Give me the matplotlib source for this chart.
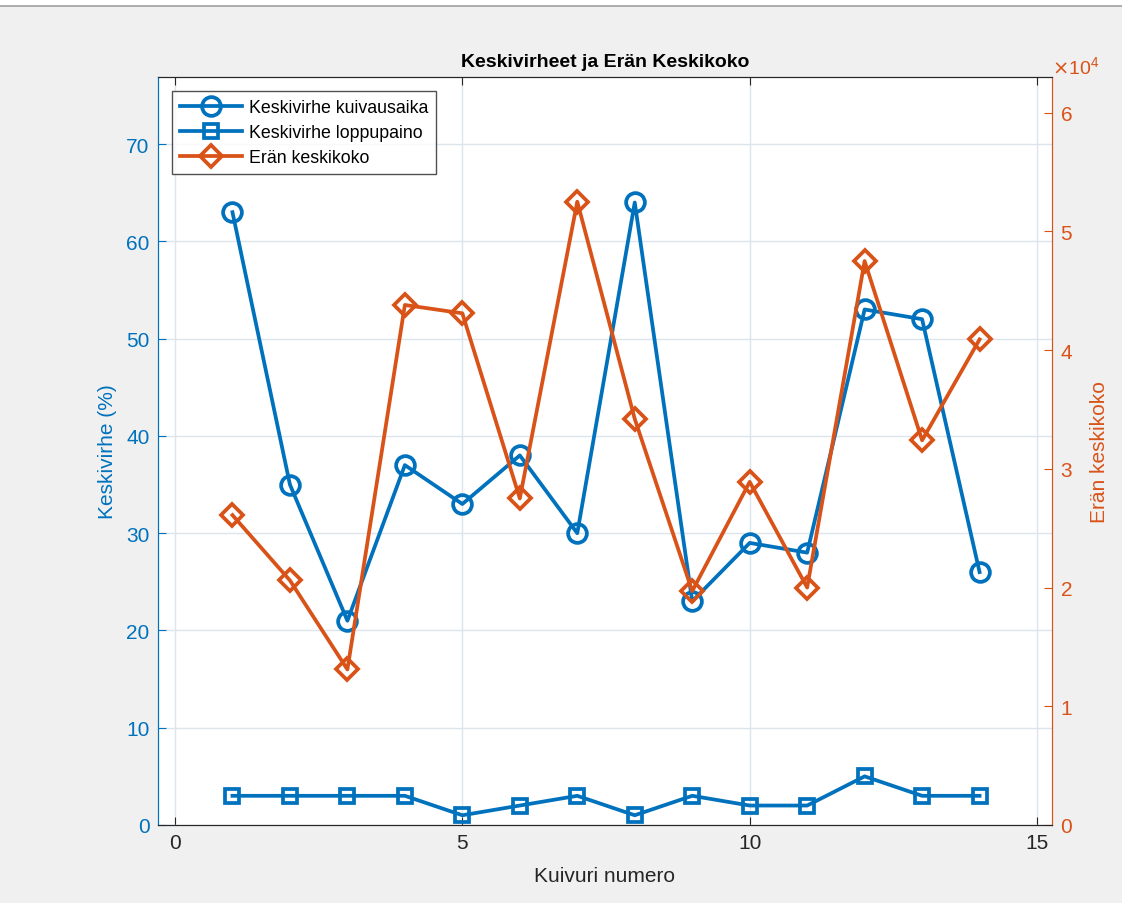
import numpy as np
import matplotlib
matplotlib.use('Agg')
import matplotlib.pyplot as plt
from matplotlib.ticker import ScalarFormatter

kuivuri = [1, 2, 3, 4, 5, 6, 7, 8, 9, 10, 11, 12, 13, 14]
virhe_kuivausaika = [63, 35, 21, 37, 33, 38, 30, 64, 23, 29, 28, 53, 52, 26]
virhe_loppupaino = [3, 3, 3, 3, 1, 2, 3, 1, 3, 2, 2, 5, 3, 3]
eran_keskikoko = [26100, 20600, 13100, 43800, 43100, 27500, 52500, 34200,
                  19700, 28900, 20000, 47500, 32400, 40900]

blue = '#0072BD'
orange = '#D95319'
dark = '#262626'

plt.rcParams['font.family'] = ['Liberation Sans', 'DejaVu Sans']

fig = plt.figure(figsize=(11.22, 9.04), dpi=100, facecolor='#f0f0f0')
# white strip at top of the window
fig.patches.append(plt.Rectangle((0, 0.992), 1, 0.008, transform=fig.transFigure,
                                 fc='white', ec='none'))
fig.lines.append(plt.Line2D([0, 1], [0.992, 0.992], transform=fig.transFigure,
                            color='#a0a0a0', lw=1.2))

ax = fig.add_axes([0.1408, 0.0863, 0.7968, 0.8274])
ax2 = ax.twinx()

l1, = ax.plot(kuivuri, virhe_kuivausaika, '-o', color=blue, lw=2.7, ms=13.5,
              mfc='none', mew=2.7, label='Keskivirhe kuivausaika')
l2, = ax.plot(kuivuri, virhe_loppupaino, '-s', color=blue, lw=2.7, ms=10,
              mfc='none', mew=2.7, label='Keskivirhe loppupaino')
l3, = ax2.plot(kuivuri, eran_keskikoko, '-D', color=orange, lw=2.7, ms=11,
               mfc='none', mew=2.7, label='Erän keskikoko')

ax.set_xlim(-0.296, 15.26)
ax.set_ylim(0, 76.9)
ax2.set_ylim(0, 63000)
ax.set_xticks([0, 5, 10, 15])
ax.set_yticks(range(0, 80, 10))
ax2.set_yticks(range(0, 70000, 10000))

fmt = ScalarFormatter(useMathText=True)
fmt.set_powerlimits((0, 0))
ax2.yaxis.set_major_formatter(fmt)
off = ax2.yaxis.get_offset_text()
off.set_color(orange)
off.set_fontsize(14)
off.set_ha('left')
off.set_x(1.0)

ax.grid(True, color='#dde5ec', lw=1)
ax.set_axisbelow(True)

for a in (ax, ax2):
    a.spines['top'].set_color(dark)
    a.spines['bottom'].set_color(dark)
    a.spines['left'].set_color(blue)
    a.spines['right'].set_color(orange)

ax.tick_params(axis='x', direction='in', top=True, colors=dark, labelsize=15,
               length=6, labelcolor=dark, pad=6)
ax.tick_params(axis='y', direction='in', colors=blue, labelsize=15, length=6, pad=6)
ax2.tick_params(axis='y', direction='in', colors=orange, labelsize=15, length=6, pad=6)

ax.set_xlabel('Kuivuri numero', fontsize=15, color=dark, labelpad=10)
ax.set_ylabel('Keskivirhe (%)', fontsize=15, color=blue, labelpad=7)
ax2.set_ylabel('Erän keskikoko', fontsize=15, color=orange, labelpad=12)
ax.set_title('Keskivirheet ja Erän Keskikoko', fontsize=14, fontweight='bold',
             color='black', pad=8)

leg = ax2.legend(handles=[l1, l2, l3], loc='upper left', fontsize=12.8,
                 handlelength=3.5, frameon=True, fancybox=False,
                 edgecolor=dark, borderaxespad=0.8, labelspacing=0.45,
                 borderpad=0.45, handletextpad=0.35)
leg.get_frame().set_linewidth(1)

fig.savefig('out.png', dpi=100, facecolor=fig.get_facecolor())
